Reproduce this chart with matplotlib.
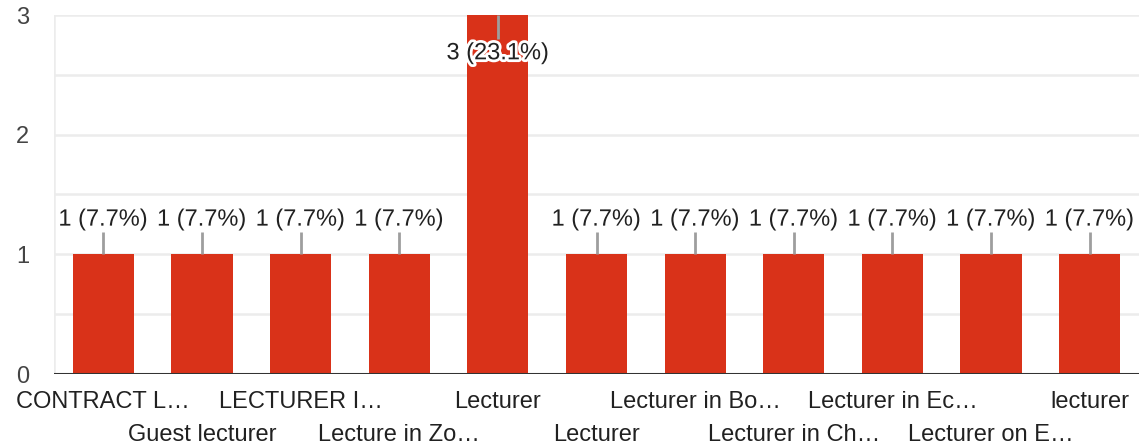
import matplotlib.pyplot as plt
import matplotlib.patheffects as pe
import numpy as np

plt.rcParams['font.family'] = ['Liberation Sans', 'DejaVu Sans']

categories = ['CONTRACT L…', 'Guest lecturer', 'LECTURER I…', 'Lecture in Zo…',
              'Lecturer', 'Lecturer', 'Lecturer in Bo…', 'Lecturer in Ch…',
              'Lecturer in Ec…', 'Lecturer on E…', 'lecturer']
counts = [1, 1, 1, 1, 3, 1, 1, 1, 1, 1, 1]

total = sum(counts)
x = np.arange(len(categories))

fig = plt.figure(figsize=(11.39, 4.48), dpi=100)
ax = fig.add_axes([54 / 1139, 74 / 448, 1085 / 1139, 359 / 448])

ax.set_xlim(-0.5, len(categories) - 0.5)
ax.set_ylim(0, 3)

# grid
for y in np.arange(0.5, 3.01, 0.5):
    ax.axhline(y, color='#ececec', lw=1.8, zorder=0)
ax.axvline(-0.5, color='#ececec', lw=1.8, zorder=0)

ax.bar(x, counts, width=0.62, color='#d93219', zorder=2)
ax.axhline(0, color='#333333', lw=2.2, zorder=3)

halo = [pe.withStroke(linewidth=4, foreground='white')]
top = max(counts)
for xi, v in zip(x, counts):
    label = f'{v} ({v / total * 100:.1f}%)'
    if v == top:
        ax.vlines(xi, v - 0.2, v, color='#9e9e9e', lw=2, zorder=4)
        ax.text(xi, v - 0.32, label, ha='center', va='center', fontsize=17,
                color='#212121', path_effects=halo, zorder=5)
    else:
        ax.vlines(xi, v, v + 0.19, color='#9e9e9e', lw=2, zorder=4)
        ax.text(xi, v + 0.29, label, ha='center', va='center', fontsize=17,
                color='#212121', path_effects=halo, zorder=5)

ax.set_yticks([0, 1, 2, 3])
ax.set_yticklabels(['0', '1', '2', '3'], fontsize=17, color='#444444')
ax.tick_params(axis='y', length=0, pad=18)

ax.set_xticks(x)
ax.set_xticklabels([])
ax.tick_params(axis='x', length=0)
for i, name in enumerate(categories):
    off = 28 if i % 2 == 0 else 61
    ax.annotate(name, xy=(i, 0), xycoords='data', xytext=(0, -off * 0.72),
                textcoords='offset points', ha='center', va='center',
                fontsize=17, color='#212121', annotation_clip=False)

for s in ax.spines.values():
    s.set_visible(False)

fig.savefig('out.png', dpi=100)
